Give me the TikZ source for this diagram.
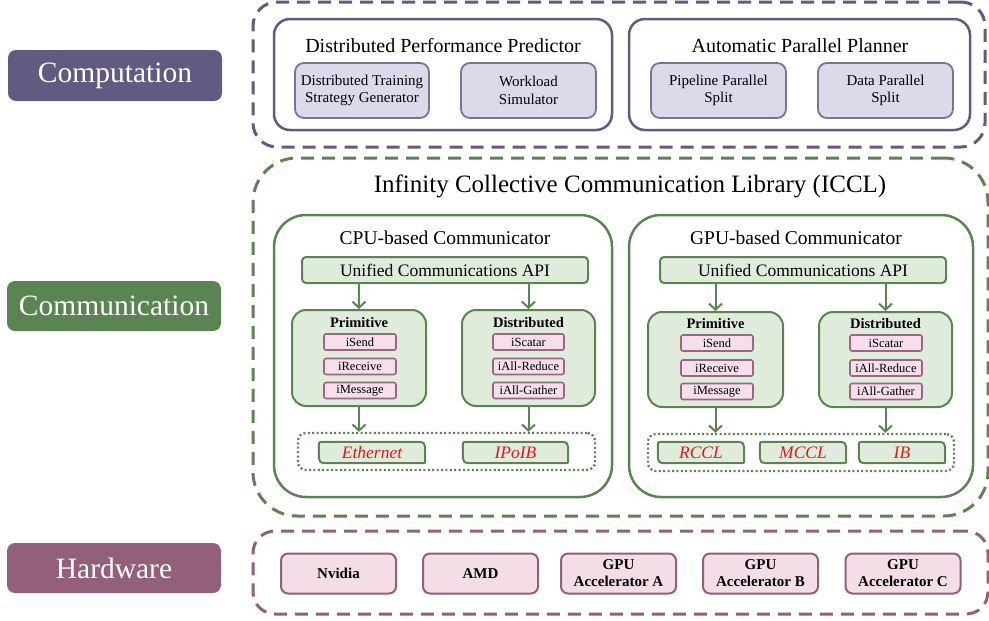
\documentclass[tikz,border=0pt]{standalone}
\usepackage{fontspec}
\setmainfont{Liberation Serif}
\usetikzlibrary{arrows.meta}
\definecolor{cpurple}{HTML}{625A80}
\definecolor{cpurplel}{HTML}{DCD9EB}
\definecolor{cgreen}{HTML}{5B8453}
\definecolor{cgreenl}{HTML}{E0ECDB}
\definecolor{cpink}{HTML}{93607A}
\definecolor{cpinkl}{HTML}{F3DEE7}
\definecolor{citem}{HTML}{9B6684}
\definecolor{citeml}{HTML}{F4DFEA}
\definecolor{cred}{HTML}{E8141B}
\newcommand\mytab[1]{%
  \filldraw[tabline] ([xshift=5pt]#1.north west) -- ([xshift=-12pt]#1.north east)
   .. controls (#1.north east) .. ([yshift=-11pt]#1.north east)
   -- ([yshift=4pt]#1.south east)
   .. controls (#1.south east) .. ([xshift=-4pt]#1.south east)
   -- ([xshift=12pt]#1.south west)
   .. controls (#1.south west) .. ([yshift=11pt]#1.south west)
   -- ([yshift=-5pt]#1.north west)
   .. controls (#1.north west) .. ([xshift=5pt]#1.north west) -- cycle;}
\begin{document}
\begin{tikzpicture}[x=1pt,y=-1pt,
  lab/.style={rounded corners=8pt,text=white,font=\fontsize{29.5}{32}\selectfont,inner sep=0pt},
  outer/.style={rounded corners=24pt,line width=3pt,dash pattern=on 13pt off 8pt,inner sep=0pt},
  grp/.style={rounded corners=16pt,line width=2.5pt,inner sep=0pt},
  sub/.style={rounded corners=9pt,line width=1.8pt,draw=cpurple!85,fill=cpurplel,align=center,inner sep=0pt,font=\fontsize{15}{17.5}\selectfont},
  ttl/.style={inner sep=0pt,font=\fontsize{20}{22}\selectfont},
  cgrp/.style={rounded corners=32pt,line width=2.5pt,draw=cgreen,inner sep=0pt},
  api/.style={rounded corners=4pt,line width=2pt,draw=cgreen,fill=cgreenl,inner sep=0pt,font=\fontsize{17.5}{20}\selectfont},
  prim/.style={rounded corners=14pt,line width=2pt,draw=cgreen,fill=cgreenl,inner sep=0pt},
  phead/.style={inner sep=0pt,font=\bfseries\fontsize{14.5}{16}\selectfont},
  item/.style={rounded corners=2pt,line width=1.6pt,draw=citem,fill=citeml,inner sep=0pt,minimum width=72pt,minimum height=16pt,font=\fontsize{12.5}{14}\selectfont},
  dotbox/.style={rounded corners=8pt,line width=2.3pt,draw=cgreen,dash pattern=on 2pt off 2.4pt,inner sep=0pt},
  tabn/.style={inner sep=0pt,minimum height=21pt,text=cred,font=\itshape\fontsize{17.5}{20}\selectfont},
  tabline/.style={line width=2pt,draw=cgreen,fill=cgreenl},
  hw/.style={rounded corners=7pt,line width=2pt,draw=cpink,fill=cpinkl,inner sep=0pt,minimum width=115pt,minimum height=40pt,align=center,font=\bfseries\fontsize{15}{17}\selectfont},
  arr/.style={draw=cgreen,line width=2pt,-{Straight Barb[length=6pt,width=13pt,line width=2pt]}}
]
\useasboundingbox (0,0) rectangle (989,621);

% left labels
\node[lab,fill=cpurple,minimum width=214pt,minimum height=51pt] (lcomp) at (115,75.5) {Computation};
\node[lab,fill=cgreen,minimum width=214pt,minimum height=50pt] (lcomm) at (114,306) {Communication};
\node[lab,fill=cpink,minimum width=214pt,minimum height=50pt] (lhw) at (114,568) {Hardware};

% computation layer
\node[outer,draw=cpurple,minimum width=732pt,minimum height=145pt] (compout) at (619,74.5) {};
\node[grp,draw=cpurple,minimum width=338pt,minimum height=111pt] (dpp) at (443,74.5) {};
\node[grp,draw=cpurple,minimum width=341pt,minimum height=111pt] (app) at (799.5,74.5) {};
\node[ttl] (dppt) at (443,46) {Distributed Performance Predictor};
\node[ttl] (appt) at (800,46) {Automatic Parallel Planner};
\node[sub,minimum width=134pt,minimum height=55pt] (dtsg) at (362,90.5) {Distributed Training\\Strategy Generator};
\node[sub,minimum width=135pt,minimum height=55pt] (ws) at (528.5,90.5) {Workload\\Simulator};
\node[sub,minimum width=135pt,minimum height=55pt] (pps) at (718.5,90.5) {Pipeline Parallel\\Split};
\node[sub,minimum width=135pt,minimum height=55pt] (dps) at (885.5,90.5) {Data Parallel\\Split};

% communication layer
\node[outer,rounded corners=44pt,draw=cgreen,minimum width=735pt,minimum height=358pt] (commout) at (620.5,337) {};
\node[inner sep=0pt,font=\fontsize{25}{28}\selectfont] (iccl) at (630,186) {Infinity Collective Communication Library (ICCL)};

\node[cgrp,minimum width=338pt,minimum height=282pt] (cpu) at (443,356) {};
\node[cgrp,minimum width=344pt,minimum height=282pt] (gpu) at (801,356) {};
\node[inner sep=0pt,font=\fontsize{19.5}{22}\selectfont] (cput) at (445,238) {CPU-based Communicator};
\node[inner sep=0pt,font=\fontsize{19.5}{22}\selectfont] (gput) at (796,238) {GPU-based Communicator};

\node[api,minimum width=286pt,minimum height=26pt] (apic) at (445,270) {Unified Communications API};
\node[api,minimum width=286pt,minimum height=26pt] (apig) at (803,270) {Unified Communications API};

\node[prim,minimum width=134pt,minimum height=96pt] (primc) at (359,358) {};
\node[prim,minimum width=133pt,minimum height=96pt] (distc) at (528.5,358) {};
\node[prim,minimum width=135pt,minimum height=95pt] (primg) at (715.5,359.5) {};
\node[prim,minimum width=133pt,minimum height=95pt] (distg) at (885.5,359.5) {};

\node[phead] (primch) at (359,323) {Primitive};
\node[phead] (distch) at (528.5,323) {Distributed};
\node[phead] (primgh) at (715.5,324) {Primitive};
\node[phead] (distgh) at (885.5,324) {Distributed};

\node[item] (c1) at (360,342) {iSend};
\node[item] (c2) at (360,366.5) {iReceive};
\node[item] (c3) at (360,390.5) {iMessage};
\node[item,minimum width=71pt] (d1) at (528.5,342) {iScatar};
\node[item,minimum width=71pt] (d2) at (528.5,366.5) {iAll-Reduce};
\node[item,minimum width=71pt] (d3) at (528.5,390.5) {iAll-Gather};
\node[item] (g1) at (717,343) {iSend};
\node[item] (g2) at (717,368) {iReceive};
\node[item] (g3) at (717,391.5) {iMessage};
\node[item] (h1) at (886,343) {iScatar};
\node[item] (h2) at (886,368) {iAll-Reduce};
\node[item] (h3) at (886,391.5) {iAll-Gather};

\node[dotbox,minimum width=297pt,minimum height=37pt] (dotc) at (446.5,451.5) {};
\node[dotbox,minimum width=306pt,minimum height=37pt] (dotg) at (801,452.5) {};

\node[tabn,minimum width=106pt] (eth) at (372,452.5) {};
\node[tabn,minimum width=105pt] (ipoib) at (515.5,452.5) {};
\node[tabn,minimum width=86pt] (rccl) at (701,452.5) {};
\node[tabn,minimum width=86pt] (mccl) at (803,452.5) {};
\node[tabn,minimum width=86pt] (ib) at (902,452.5) {};
\mytab{eth}\mytab{ipoib}\mytab{rccl}\mytab{mccl}\mytab{ib}
\node[tabn] at (eth) {Ethernet};
\node[tabn] at (ipoib) {IPoIB};
\node[tabn] at (rccl) {RCCL};
\node[tabn] at (mccl) {MCCL};
\node[tabn] at (ib) {IB};

\draw[arr] (apic.south -| primc.north) -- (primc.north);
\draw[arr] (apic.south -| distc.north) -- (distc.north);
\draw[arr] (apig.south -| primg.north) -- (primg.north);
\draw[arr] (apig.south -| distg.north) -- (distg.north);
\draw[arr] (primc.south) -- (primc.south |- dotc.north);
\draw[arr] (distc.south) -- (distc.south |- dotc.north);
\draw[arr] (primg.south) -- (primg.south |- dotg.north);
\draw[arr] (distg.south) -- (distg.south |- dotg.north);

% hardware layer
\node[outer,rounded corners=22pt,draw=cpink,minimum width=735pt,minimum height=83pt] (hwout) at (620.5,572.5) {};
\node[hw] (nv) at (338.5,573.5) {Nvidia};
\node[hw] (amd) at (480.5,573.5) {AMD};
\node[hw] (ga) at (618.5,573.5) {GPU\\Accelerator A};
\node[hw] (gb) at (760.5,573.5) {GPU\\Accelerator B};
\node[hw] (gc) at (903,573.5) {GPU\\Accelerator C};
\end{tikzpicture}
\end{document}
